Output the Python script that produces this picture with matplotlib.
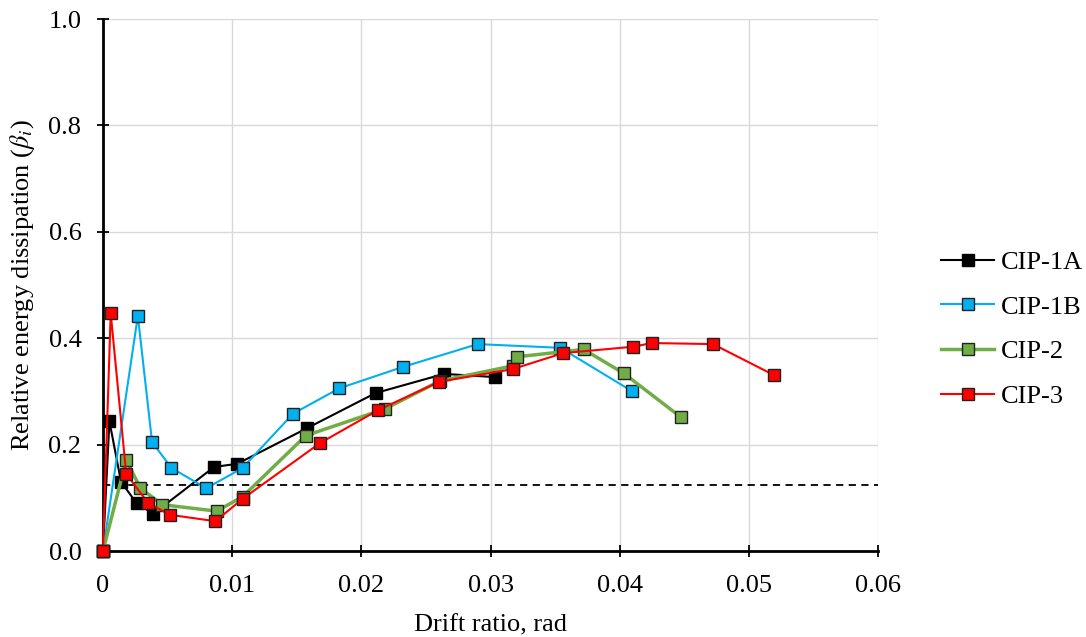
import numpy as np
import matplotlib
matplotlib.use('Agg')
import matplotlib.pyplot as plt

plt.rcParams['font.family'] = ['Liberation Serif', 'DejaVu Serif']
plt.rcParams['mathtext.fontset'] = 'stix'

# drift ratio (rad) and relative energy dissipation for each specimen
x_1a = [0, 0.0005, 0.0014, 0.0026, 0.0039, 0.0086, 0.0104, 0.0158, 0.0211, 0.0264, 0.0303]
y_1a = [0, 0.244, 0.130, 0.090, 0.070, 0.158, 0.164, 0.231, 0.297, 0.333, 0.327]

x_1b = [0, 0.0027, 0.0038, 0.0053, 0.0080, 0.0108, 0.0147, 0.0183, 0.0232, 0.0290, 0.0354, 0.0409]
y_1b = [0, 0.442, 0.205, 0.156, 0.118, 0.156, 0.258, 0.306, 0.346, 0.389, 0.382, 0.301]

x_2 = [0, 0.0018, 0.0029, 0.0046, 0.0088, 0.0108, 0.0157, 0.0218, 0.0261, 0.0317, 0.0320, 0.0372, 0.0403, 0.0447]
y_2 = [0, 0.171, 0.118, 0.087, 0.075, 0.102, 0.217, 0.267, 0.320, 0.348, 0.365, 0.379, 0.334, 0.252]

x_3 = [0, 0.0006, 0.0018, 0.0035, 0.0052, 0.0087, 0.0108, 0.0168, 0.0213, 0.0260, 0.0317, 0.0356, 0.0410, 0.0425, 0.0472, 0.0519]
y_3 = [0, 0.447, 0.145, 0.090, 0.068, 0.056, 0.098, 0.203, 0.265, 0.318, 0.342, 0.372, 0.384, 0.391, 0.389, 0.331]

threshold = 0.125

fig = plt.figure(figsize=(10.86, 6.37), dpi=100)
ax = fig.add_axes([0.0948, 0.135, 0.714, 0.835])

ax.grid(True, color='#d9d9d9', linewidth=1.0)
ax.set_axisbelow(True)

ax.plot([0, 0.06], [threshold, threshold], color='black', linestyle=(0, (4, 3)), linewidth=1.3)

ax.plot(x_1a, y_1a, color='black', lw=1.5, marker='s', ms=8, mfc='black', mec='black',
        label='CIP-1A', clip_on=False, zorder=3)
ax.plot(x_1b, y_1b, color='#00B0F0', lw=1.5, marker='s', ms=8, mfc='#00B0F0', mec='#222222',
        label='CIP-1B', clip_on=False, zorder=3)
ax.plot(x_2, y_2, color='#70AD47', lw=2.5, marker='s', ms=8, mfc='#70AD47', mec='#222222',
        label='CIP-2', clip_on=False, zorder=3)
ax.plot(x_3, y_3, color='#FF0000', lw=1.5, marker='s', ms=8, mfc='#FF0000', mec='#222222',
        label='CIP-3', clip_on=False, zorder=3)

ax.set_xlim(0, 0.06)
ax.set_ylim(0, 1.0)
ax.set_xticks([0, 0.01, 0.02, 0.03, 0.04, 0.05, 0.06])
ax.set_xticklabels(['0', '0.01', '0.02', '0.03', '0.04', '0.05', '0.06'])
ax.set_yticks([0, 0.2, 0.4, 0.6, 0.8, 1.0])
ax.set_yticklabels(['0.0', '0.2', '0.4', '0.6', '0.8', '1.0'])
ax.tick_params(direction='inout', length=9, width=1.3, labelsize=19, colors='black')
ax.tick_params(axis='x', pad=13)
ax.tick_params(axis='y', pad=11)

for s in ['top', 'right']:
    ax.spines[s].set_visible(False)
for s in ['left', 'bottom']:
    ax.spines[s].set_linewidth(2)

ax.set_xlabel('Drift ratio, rad', fontsize=19, labelpad=12)
ax.set_ylabel(r'Relative energy dissipation ($\beta_i$)', fontsize=19, labelpad=8)

ax.legend(loc='center left', bbox_to_anchor=(1.081, 0.417), frameon=False, fontsize=19,
          handlelength=2.0, labelspacing=0.8, handletextpad=0.25, borderpad=0, borderaxespad=0)

fig.savefig('out.png', dpi=100)
